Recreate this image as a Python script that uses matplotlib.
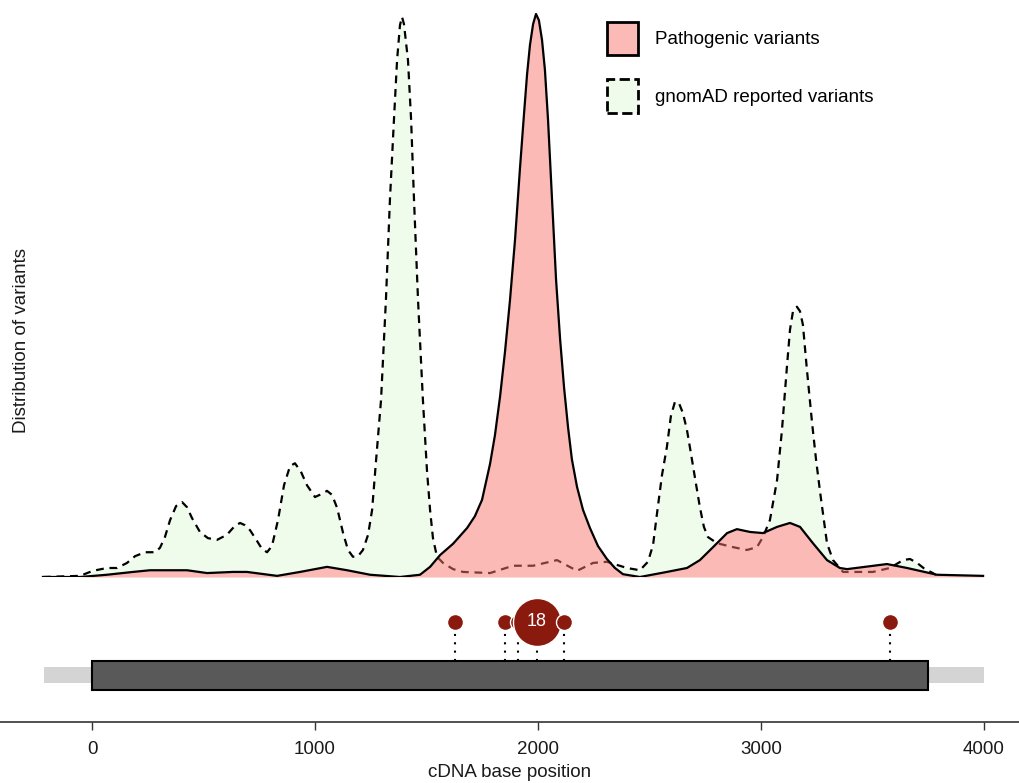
import matplotlib
matplotlib.use("Agg")
import matplotlib.pyplot as plt
from matplotlib.patches import Patch, Rectangle

plt.rcParams['font.family'] = ['Liberation Sans', 'DejaVu Sans']

# density of gnomAD reported variants along the cDNA (relative units)
gnomad_pos = [-220, -54, 4, 67, 112, 157, 193, 238, 283, 305, 327, 350, 377,
              404, 426, 448, 484, 520, 561, 605, 641, 664, 686, 709, 740,
              762, 785, 807, 834, 861, 888, 910, 937, 964, 1000, 1027, 1054,
              1076, 1099, 1126, 1148, 1170, 1193, 1215, 1238, 1256, 1274,
              1296, 1318, 1336, 1354, 1368, 1381, 1390, 1399, 1417, 1431,
              1444, 1462, 1484, 1502, 1516, 1529, 1547, 1574, 1619, 1664,
              1785, 1888, 1978, 2085, 2175, 2247, 2309, 2399, 2457, 2493,
              2516, 2534, 2556, 2578, 2596, 2614, 2632, 2650, 2668, 2681,
              2704, 2726, 2744, 2762, 2803, 2875, 2937, 2982, 3009, 3040,
              3072, 3094, 3117, 3130, 3143, 3161, 3175, 3188, 3206, 3229,
              3247, 3265, 3283, 3296, 3323, 3368, 3502, 3578, 3637, 3668,
              3700, 3735, 3771, 3789]
gnomad_dens = [0.0, 0.002, 0.011, 0.016, 0.016, 0.025, 0.037, 0.044, 0.044,
               0.052, 0.071, 0.101, 0.126, 0.133, 0.124, 0.105, 0.080, 0.069,
               0.066, 0.075, 0.091, 0.096, 0.092, 0.083, 0.064, 0.050, 0.044,
               0.055, 0.101, 0.163, 0.197, 0.202, 0.187, 0.163, 0.142, 0.147,
               0.153, 0.146, 0.123, 0.078, 0.048, 0.036, 0.037, 0.048, 0.075,
               0.119, 0.208, 0.314, 0.492, 0.670, 0.812, 0.918, 0.980, 0.995,
               0.982, 0.918, 0.812, 0.670, 0.492, 0.314, 0.190, 0.119, 0.069,
               0.036, 0.025, 0.014, 0.009, 0.007, 0.020, 0.020, 0.030, 0.011,
               0.025, 0.027, 0.016, 0.012, 0.027, 0.057, 0.114, 0.181, 0.231,
               0.286, 0.311, 0.309, 0.291, 0.261, 0.231, 0.176, 0.124, 0.089,
               0.071, 0.060, 0.053, 0.048, 0.053, 0.071, 0.101, 0.172, 0.261,
               0.377, 0.439, 0.471, 0.480, 0.472, 0.448, 0.368, 0.274, 0.208,
               0.151, 0.098, 0.060, 0.030, 0.009, 0.009, 0.016, 0.030, 0.032,
               0.025, 0.014, 0.007, 0.002]

# density of pathogenic variants
patho_pos = [-220, -54, 67, 184, 260, 426, 516, 632, 695, 830, 933, 1054,
             1144, 1247, 1381, 1471, 1516, 1561, 1619, 1682, 1717, 1749, 1785,
             1807, 1830, 1852, 1874, 1897, 1919, 1937, 1951, 1964, 1978, 1991,
             2004, 2018, 2031, 2045, 2063, 2081, 2099, 2117, 2135, 2152, 2175,
             2202, 2233, 2269, 2309, 2345, 2381, 2457, 2578, 2668, 2726, 2785,
             2848, 2892, 2951, 3009, 3072, 3130, 3175, 3233, 3296, 3354, 3386,
             3565, 3655, 3789, 3996]
patho_dens = [0.0, 0.0, 0.004, 0.009, 0.012, 0.012, 0.007, 0.009, 0.009,
              0.002, 0.009, 0.018, 0.012, 0.004, 0.0, 0.004, 0.018, 0.039,
              0.059, 0.087, 0.108, 0.137, 0.201, 0.252, 0.321, 0.400, 0.490,
              0.599, 0.725, 0.821, 0.893, 0.945, 0.982, 1.0, 0.989, 0.954,
              0.901, 0.812, 0.670, 0.528, 0.423, 0.336, 0.265, 0.209, 0.160,
              0.119, 0.087, 0.055, 0.032, 0.016, 0.005, 0.0, 0.009, 0.016,
              0.030, 0.053, 0.078, 0.085, 0.080, 0.078, 0.089, 0.096, 0.089,
              0.060, 0.030, 0.016, 0.014, 0.023, 0.016, 0.004, 0.002]

# pathogenic variant positions and counts (lollipops)
var_pos = [1628, 1851, 1911, 1996, 2117, 3578]
var_count = [1, 1, 1, 18, 1, 1]

# transcript
utr_start, utr_end = -215, 4000
cds_start, cds_end = 0, 3750

W, H = 1019, 783
fig = plt.figure(figsize=(W / 100, H / 100), dpi=100)

xlim = (-412.6, 4157)

# ---- densities
ax = fig.add_axes([0, (H - 577) / H, 1, 577 / H])
ax.fill_between(gnomad_pos, gnomad_dens, color='#effcec', lw=0, zorder=1)
# white under the pathogenic curve so the pink is not tinted by the green
ax.fill_between(patho_pos, patho_dens, color='white', lw=0, zorder=1.5)
ax.plot(gnomad_pos, gnomad_dens, color='black', lw=1.6, dashes=(3.5, 2.6),
        zorder=2)
ax.fill_between(patho_pos, patho_dens, color='#F8766D', alpha=0.5, lw=0,
                zorder=3)
ax.plot(patho_pos, patho_dens, color='black', lw=1.6, zorder=4)
ax.set_xlim(*xlim)
ax.set_ylim(0, 577 / 563)
ax.axis('off')

handles = [Patch(facecolor='#FBBAB6', edgecolor='black', lw=2),
           Patch(facecolor='#effcec', edgecolor='black', lw=2, ls='--')]
fig.legend(handles, ['Pathogenic variants', 'gnomAD reported variants'],
           loc='upper left', bbox_to_anchor=(607 / W, 1 - 22 / H),
           frameon=False, fontsize=13.5, borderpad=0, borderaxespad=0,
           handlelength=1.65, handleheight=2.34, labelspacing=1.3,
           handletextpad=0.9)

fig.text(22 / W, 1 - 340 / H, 'Distribution of variants', rotation=90,
         ha='center', va='center', fontsize=13.5, color='#1a1a1a')

# ---- gene track
gx = fig.add_axes([0, (H - 722) / H, 1, 132 / H])
gx.set_xlim(*xlim)
gx.set_ylim(0, 132)
gx.add_patch(Rectangle((utr_start, 39), utr_end - utr_start, 16,
                       facecolor='#d4d4d4', edgecolor='none', zorder=1))
gx.add_patch(Rectangle((cds_start, 32), cds_end - cds_start, 29,
                       facecolor='#595959', edgecolor='black', lw=1.5,
                       zorder=2))
for p in var_pos:
    gx.plot([p, p], [61, 100], color='black', lw=1.5, ls=(0, (1, 3)),
            zorder=3)
for p, c in zip(var_pos, var_count):
    gx.scatter([p], [100], s=133 * c ** 0.76, color='#8B1A0E',
               edgecolor='white', lw=1, zorder=4)
    if c > 1:
        gx.text(p, 100, str(c), color='white', ha='center', va='center',
                fontsize=13, zorder=5)

for s in ['top', 'left', 'right']:
    gx.spines[s].set_visible(False)
gx.spines['bottom'].set_color('#333333')
gx.spines['bottom'].set_linewidth(1.2)
gx.set_yticks([])
gx.set_xticks([0, 1000, 2000, 3000, 4000])
gx.tick_params(axis='x', length=6, width=1, color='#333333', pad=8,
               labelsize=13.5, labelcolor='#1a1a1a')
gx.set_xlabel('cDNA base position', fontsize=13.5, color='#1a1a1a',
              labelpad=4)

fig.savefig('out.png', dpi=100)
